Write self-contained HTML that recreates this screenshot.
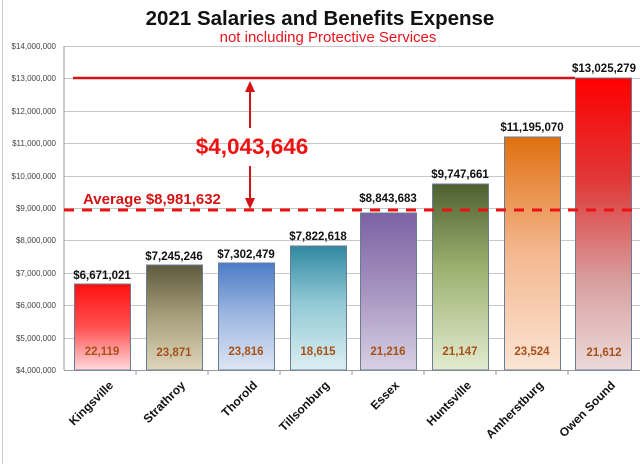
<!DOCTYPE html>
<html><head><meta charset="utf-8"><style>
body{margin:0;background:#fff}
svg{display:block;font-family:"Liberation Sans",Calibri,sans-serif}
</style></head><body>
<svg width="640" height="464" viewBox="0 0 640 464" xmlns="http://www.w3.org/2000/svg">
<defs>
<linearGradient id="g1" x1="0" y1="0" x2="0" y2="1"><stop offset="0" stop-color="#ff1010"/><stop offset="0.5" stop-color="#ff5050"/><stop offset="1" stop-color="#ffd8dc"/></linearGradient>
<linearGradient id="g2" x1="0" y1="0" x2="0" y2="1"><stop offset="0" stop-color="#5e5a3e"/><stop offset="0.5" stop-color="#a8a07c"/><stop offset="1" stop-color="#ddd6bc"/></linearGradient>
<linearGradient id="g3" x1="0" y1="0" x2="0" y2="1"><stop offset="0" stop-color="#4c7cc8"/><stop offset="0.5" stop-color="#a0b8e0"/><stop offset="1" stop-color="#dce6f4"/></linearGradient>
<linearGradient id="g4" x1="0" y1="0" x2="0" y2="1"><stop offset="0" stop-color="#3088a0"/><stop offset="0.45" stop-color="#90c8d4"/><stop offset="1" stop-color="#dceff2"/></linearGradient>
<linearGradient id="g5" x1="0" y1="0" x2="0" y2="1"><stop offset="0" stop-color="#7a62a4"/><stop offset="0.5" stop-color="#a694c0"/><stop offset="1" stop-color="#d8d0e4"/></linearGradient>
<linearGradient id="g6" x1="0" y1="0" x2="0" y2="1"><stop offset="0" stop-color="#4e6030"/><stop offset="0.45" stop-color="#9cb070"/><stop offset="1" stop-color="#e2ecd0"/></linearGradient>
<linearGradient id="g7" x1="0" y1="0" x2="0" y2="1"><stop offset="0" stop-color="#e07010"/><stop offset="0.5" stop-color="#f4b890"/><stop offset="1" stop-color="#fbe4d4"/></linearGradient>
<linearGradient id="g8" x1="0" y1="0" x2="0" y2="1"><stop offset="0" stop-color="#ff0000"/><stop offset="0.35" stop-color="#e03838"/><stop offset="0.7" stop-color="#d8a0a0"/><stop offset="1" stop-color="#ecdada"/></linearGradient>
</defs>
<rect x="2" y="0" width="1" height="464" fill="#ccc"/>
<text x="320" y="25" text-anchor="middle" font-size="20.5" font-weight="bold" fill="#111">2021 Salaries and Benefits Expense</text>
<text x="328" y="42" text-anchor="middle" font-size="15" fill="#e8141c">not including Protective Services</text>
<g stroke="#c8c8c8" stroke-width="1">
<line x1="64" y1="46.5" x2="640" y2="46.5"/><line x1="64" y1="78.5" x2="640" y2="78.5"/><line x1="64" y1="111.5" x2="640" y2="111.5"/><line x1="64" y1="143.5" x2="640" y2="143.5"/><line x1="64" y1="176.5" x2="640" y2="176.5"/><line x1="64" y1="208.5" x2="640" y2="208.5"/><line x1="64" y1="240.5" x2="640" y2="240.5"/><line x1="64" y1="273.5" x2="640" y2="273.5"/><line x1="64" y1="305.5" x2="640" y2="305.5"/><line x1="64" y1="338.5" x2="640" y2="338.5"/>
</g>
<line x1="64" y1="46" x2="64" y2="370" stroke="#999"/>
<line x1="64" y1="370.5" x2="640" y2="370.5" stroke="#999"/>
<g stroke="#999"><line x1="136" y1="370" x2="136" y2="375"/><line x1="208" y1="370" x2="208" y2="375"/><line x1="280" y1="370" x2="280" y2="375"/><line x1="352" y1="370" x2="352" y2="375"/><line x1="424" y1="370" x2="424" y2="375"/><line x1="496" y1="370" x2="496" y2="375"/><line x1="568" y1="370" x2="568" y2="375"/></g>
<g font-size="8" fill="#444" text-anchor="end">
<text x="56" y="49">$14,000,000</text><text x="56" y="81">$13,000,000</text><text x="56" y="114">$12,000,000</text><text x="56" y="146">$11,000,000</text><text x="56" y="179">$10,000,000</text><text x="56" y="211">$9,000,000</text><text x="56" y="243">$8,000,000</text><text x="56" y="276">$7,000,000</text><text x="56" y="308">$6,000,000</text><text x="56" y="341">$5,000,000</text><text x="56" y="373">$4,000,000</text>
</g>
<line x1="73" y1="78" x2="575" y2="78" stroke="#d41414" stroke-width="2.5"/>
<g stroke="#6b7d95" stroke-width="1">
<rect x="74.5" y="284" width="56" height="86" fill="url(#g1)"/>
<rect x="146.5" y="265" width="56" height="105" fill="url(#g2)"/>
<rect x="218.5" y="263" width="56" height="107" fill="url(#g3)"/>
<rect x="290.5" y="246" width="56" height="124" fill="url(#g4)"/>
<rect x="360.5" y="213" width="56" height="157" fill="url(#g5)"/>
<rect x="432.5" y="184" width="56" height="186" fill="url(#g6)"/>
<rect x="504.5" y="137" width="56" height="233" fill="url(#g7)"/>
<rect x="575.5" y="78" width="56" height="292" fill="url(#g8)"/>
</g>
<line x1="64" y1="210" x2="632" y2="210" stroke="#ee1111" stroke-width="3" stroke-dasharray="10,8"/>
<g stroke="#d41414" stroke-width="2" fill="#d41414">
<line x1="250" y1="90" x2="250" y2="128"/><polygon points="245,92 255,92 250,81" stroke="none"/>
<line x1="250" y1="166" x2="250" y2="200"/><polygon points="245,198 255,198 250,209" stroke="none"/>
</g>
<text x="252" y="154" text-anchor="middle" font-size="22.5" font-weight="bold" fill="#ee1111">$4,043,646</text>
<text x="83" y="204" font-size="15" font-weight="bold" fill="#d41414">Average $8,981,632</text>
<g font-size="11.5" font-weight="bold" fill="#111" text-anchor="middle">
<text x="102" y="279">$6,671,021</text><text x="174" y="260">$7,245,246</text><text x="246" y="258">$7,302,479</text><text x="318" y="240">$7,822,618</text><text x="388" y="202">$8,843,683</text><text x="460" y="178">$9,747,661</text><text x="532" y="131">$11,195,070</text><text x="604" y="72">$13,025,279</text>
</g>
<g font-size="11.5" font-weight="bold" fill="#a8521a" text-anchor="middle">
<text x="102" y="355">22,119</text><text x="174" y="356">23,871</text><text x="246" y="355">23,816</text><text x="318" y="355">18,615</text><text x="388" y="355">21,216</text><text x="460" y="355">21,147</text><text x="532" y="355">23,524</text><text x="604" y="356">21,612</text>
</g>
<g font-size="12" font-weight="bold" fill="#111" text-anchor="end">
<text transform="translate(114,386) rotate(-45)">Kingsville</text>
<text transform="translate(186,386) rotate(-45)">Strathroy</text>
<text transform="translate(258,386) rotate(-45)">Thorold</text>
<text transform="translate(330,386) rotate(-45)">Tillsonburg</text>
<text transform="translate(400,386) rotate(-45)">Essex</text>
<text transform="translate(472,386) rotate(-45)">Huntsville</text>
<text transform="translate(544,386) rotate(-45)">Amherstburg</text>
<text transform="translate(616,386) rotate(-45)">Owen Sound</text>
</g>
</svg>
</body></html>
